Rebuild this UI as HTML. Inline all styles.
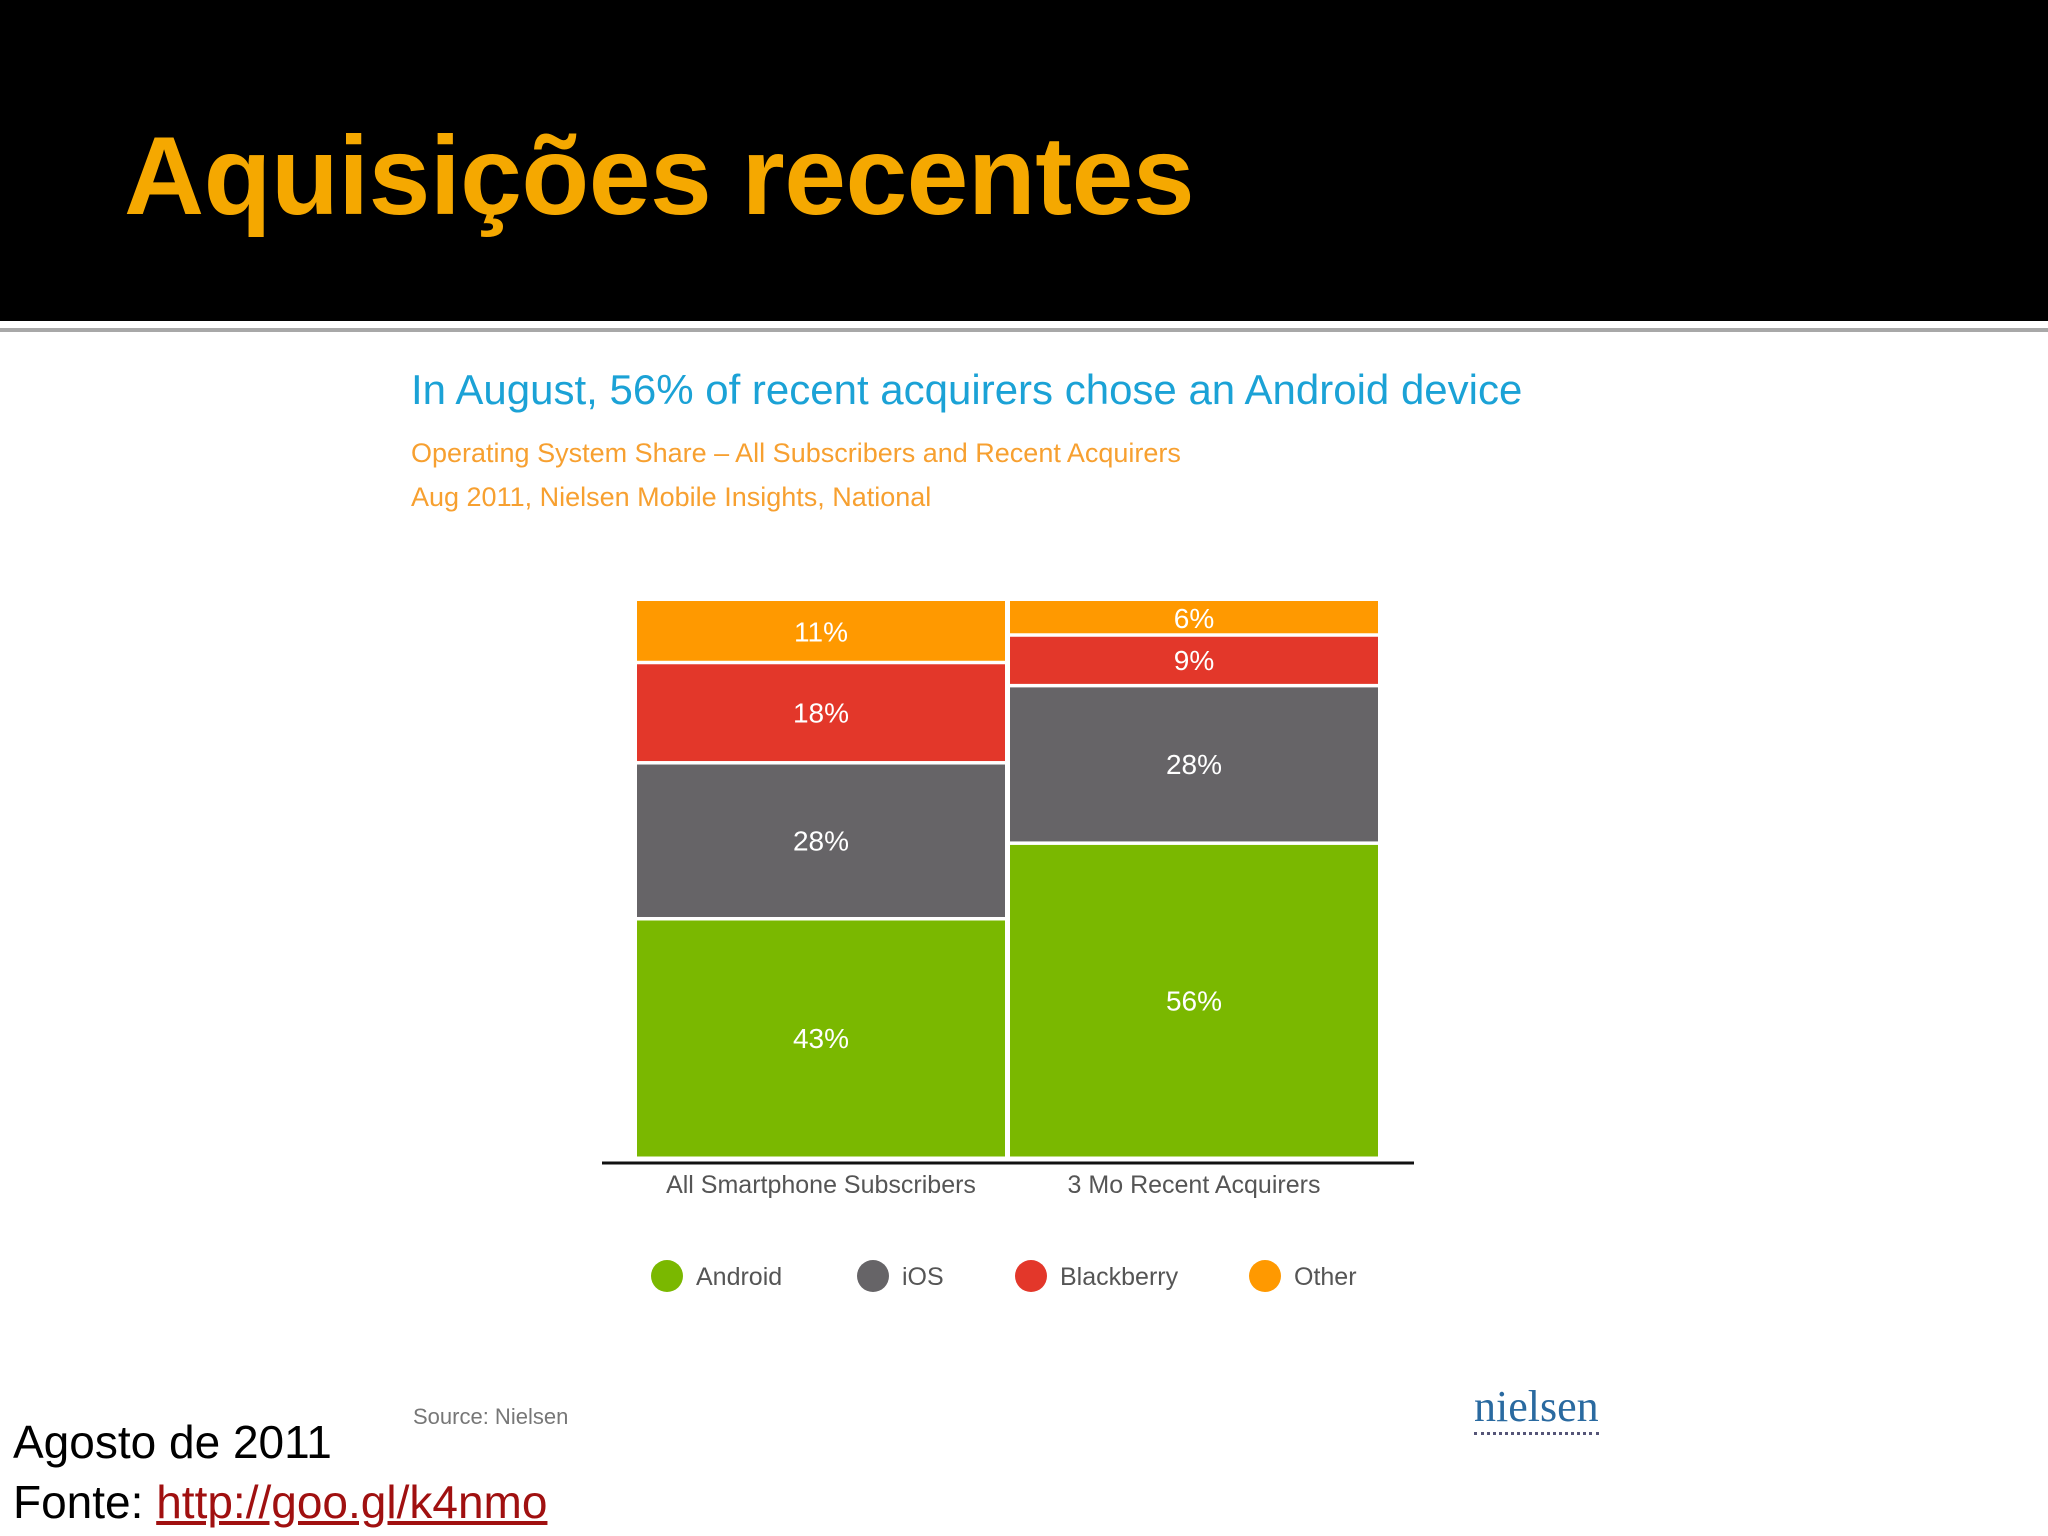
<!DOCTYPE html>
<html><head><meta charset="utf-8"><style>
body{margin:0;width:2048px;height:1536px;overflow:hidden;background:#fff;font-family:"Liberation Sans",sans-serif;position:relative}
.a{position:absolute;white-space:nowrap}
</style></head><body>
<div class="a" style="left:0;top:0;width:2048px;height:321px;background:#000"></div>
<div class="a" style="left:0;top:328px;width:2048px;height:4px;background:#a8a8a8"></div>
<div class="a" style="left:124px;top:112px;font-size:111px;font-weight:bold;color:#f5a800;letter-spacing:-0.5px">Aquisições recentes</div>
<div class="a" style="left:411px;top:366px;font-size:42px;color:#1ba2d6">In August, 56% of recent acquirers chose an Android device</div>
<div class="a" style="left:411px;top:438px;font-size:27px;color:#f7a030">Operating System Share – All Subscribers and Recent Acquirers</div>
<div class="a" style="left:411px;top:482px;font-size:27px;color:#f7a030">Aug 2011, Nielsen Mobile Insights, National</div>
<svg class="a" style="left:0;top:0" width="2048" height="1536" id="chart"></svg>
<div class="a" style="left:413px;top:1404px;font-size:22px;color:#777">Source: Nielsen</div>
<div class="a" style="left:1474px;top:1382px;font-family:'Liberation Serif',serif;font-size:44px;color:#2a6aa0;border-bottom:3px dotted #557;line-height:50px">nielsen</div>
<div class="a" style="left:13px;top:1415px;font-size:46px;color:#000">Agosto de 2011</div>
<div class="a" style="left:13px;top:1475px;font-size:46px;color:#000">Fonte: <a style="color:#a01010;text-decoration:underline">http://goo.gl/k4nmo</a></div>
<script>
const categories=["All Smartphone  Subscribers","3 Mo Recent Acquirers"];
const seriesNames=["Android","iOS","Blackberry","Other"];
const android=[43,56];
const ios=[28,28];
const blackberry=[18,9];
const other=[11,6];
const colors=["#7ab800","#666467","#e3372a","#ff9900"];
const svg=document.getElementById('chart');
const NS="http://www.w3.org/2000/svg";
const top0=601,bottom=1158,x0=637,colW=368,gap=5;
function mk(t,a){const e=document.createElementNS(NS,t);for(const k in a)e.setAttribute(k,a[k]);svg.appendChild(e);return e;}
const series=[android,ios,blackberry,other];
categories.forEach((c,i)=>{
  const total=series.reduce((s,a)=>s+a[i],0);
  const sc=(bottom-top0)/total;
  let y=bottom;
  const x=x0+i*(colW+gap);
  series.forEach((arr,j)=>{
    const h=arr[i]*sc;
    const r=mk('rect',{x:x,y:y-h+(j<3?2:0),width:colW,height:h-(j<3?2:0)-1.5,fill:colors[j]});
    
    
    const t=mk('text',{x:x+colW/2,y:y-h/2+10,'text-anchor':'middle','font-size':28,fill:'#fff','font-family':'Liberation Sans, sans-serif'});
    t.textContent=arr[i]+'%';
    
    
    y-=h;
  });
  const l=mk('text',{x:x+colW/2,y:1193,'text-anchor':'middle','font-size':25,fill:'#555','font-family':'Liberation Sans, sans-serif'});
  l.textContent=c;
  
  
});
const ax=mk('line',{x1:602,x2:1414,y1:1163,y2:1163,stroke:'#111','stroke-width':3});


const lx=[667,873,1031,1265];
seriesNames.forEach((n,j)=>{
  const c=mk('circle',{cx:lx[j],cy:1276,r:16,fill:colors[j]});
  
  
  const t=mk('text',{x:lx[j]+29,y:1285,'font-size':25,fill:'#555','font-family':'Liberation Sans, sans-serif'});
  t.textContent=n;
  
  
});
</script>
</body></html>
